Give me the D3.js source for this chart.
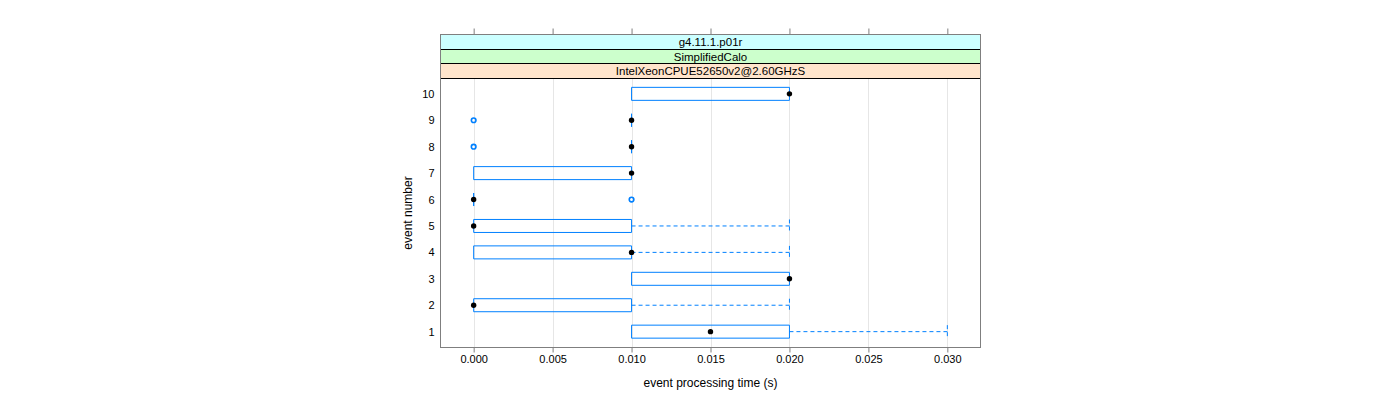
<!DOCTYPE html>
<html>
<head>
<meta charset="utf-8">
<script src="https://cdn.jsdelivr.net/npm/d3@7"></script>
<style>
  html, body { margin: 0; padding: 0; background: #ffffff; }
  svg { display: block; font-family: "Liberation Sans", Arial, Helvetica, sans-serif; }
</style>
</head>
<body>
<svg id="chart" width="1400" height="400"></svg>
<script>
// ---- data ----
const events      = [1, 2, 3, 4, 5, 6, 7, 8, 9, 10];
const q1Values    = [0.010, 0.000, 0.010, 0.000, 0.000, 0.000, 0.000, 0.010, 0.010, 0.010];
const q3Values    = [0.020, 0.010, 0.020, 0.010, 0.010, 0.000, 0.010, 0.010, 0.010, 0.020];
const medians     = [0.015, 0.000, 0.020, 0.010, 0.000, 0.000, 0.010, 0.010, 0.010, 0.020];
const whiskerLow  = [0.010, 0.000, 0.010, 0.000, 0.000, 0.000, 0.000, 0.010, 0.010, 0.010];
const whiskerHigh = [0.030, 0.020, 0.020, 0.020, 0.020, 0.000, 0.010, 0.010, 0.010, 0.020];
const outlierEvents = [6, 8, 9];
const outlierValues = [0.010, 0.000, 0.000];
const xTicks = [0.000, 0.005, 0.010, 0.015, 0.020, 0.025, 0.030];
const stripLabels = ["g4.11.1.p01r", "SimplifiedCalo", "IntelXeonCPUE52650v2@2.60GHzS"];
const stripColors = ["#ccffff", "#ccffcc", "#ffe5cc"];
const xTitle = "event processing time (s)";
const yTitle = "event number";

// ---- layout ----
const svg = d3.select("#chart");
const L = 440.5, R = 980.5, T = 34.5, B = 347.5;
const stripEdges = [34.5, 49.5, 63.5, 78.5];
const P = stripEdges[3];
const boxH = 13;

const x = d3.scaleLinear().domain([-0.0021, 0.0321]).range([L, R]);
const y = d3.scaleLinear().domain([0.4, 10.6]).range([B, P - 0.5]);

const blue = "#0080ff";
const frame = "#7f7f7f";

// grid lines
svg.append("g").selectAll("line").data(xTicks).join("line")
  .attr("x1", d => Math.round(x(d)) + 0.5).attr("x2", d => Math.round(x(d)) + 0.5)
  .attr("y1", P).attr("y2", B)
  .attr("stroke", "#e6e6e6").attr("stroke-width", 1);

// strips
const strips = svg.append("g");
stripLabels.forEach((lab, i) => {
  const y0 = stripEdges[i], y1 = stripEdges[i + 1];
  strips.append("rect").attr("x", L).attr("y", y0).attr("width", R - L).attr("height", y1 - y0)
    .attr("fill", stripColors[i]).attr("stroke", "#000").attr("stroke-width", 1);
  strips.append("text").attr("x", (L + R) / 2).attr("y", (y0 + y1) / 2 + 4)
    .attr("text-anchor", "middle").attr("font-size", 11.5).attr("fill", "#000").text(lab);
});

// boxes
const data = events.map((e, i) => ({
  e, q1: q1Values[i], q3: q3Values[i], med: medians[i], lo: whiskerLow[i], hi: whiskerHigh[i]
}));
const g = svg.append("g");

// whiskers (dashed)
data.filter(d => d.hi > d.q3).forEach(d => {
  const yc = y(d.e);
  g.append("line").attr("x1", x(d.q3)).attr("x2", x(d.hi)).attr("y1", yc).attr("y2", yc)
    .attr("stroke", blue).attr("stroke-dasharray", "4,3");
  g.append("line").attr("x1", x(d.hi)).attr("x2", x(d.hi)).attr("y1", yc - boxH / 2).attr("y2", yc + boxH / 2)
    .attr("stroke", blue).attr("stroke-dasharray", "4,3");
});
data.filter(d => d.lo < d.q1).forEach(d => {
  const yc = y(d.e);
  g.append("line").attr("x1", x(d.lo)).attr("x2", x(d.q1)).attr("y1", yc).attr("y2", yc)
    .attr("stroke", blue).attr("stroke-dasharray", "4,3");
  g.append("line").attr("x1", x(d.lo)).attr("x2", x(d.lo)).attr("y1", yc - boxH / 2).attr("y2", yc + boxH / 2)
    .attr("stroke", blue).attr("stroke-dasharray", "4,3");
});

// box outlines drawn as paths so degenerate (zero-width) boxes still show
g.selectAll("path.box").data(data).join("path").attr("class", "box")
  .attr("d", d => {
    const x0 = x(d.q1), x1 = x(d.q3), y0 = y(d.e) - boxH / 2, y1 = y(d.e) + boxH / 2;
    return `M${x0},${y0}L${x1},${y0}L${x1},${y1}L${x0},${y1}Z`;
  })
  .attr("fill", "none").attr("stroke", blue).attr("stroke-width", 1);

// medians
g.selectAll("circle.med").data(data).join("circle").attr("class", "med")
  .attr("cx", d => x(d.med)).attr("cy", d => y(d.e)).attr("r", 2.7).attr("fill", "#000");

// outliers
g.selectAll("circle.out").data(outlierEvents.map((e, i) => ({ e, v: outlierValues[i] }))).join("circle")
  .attr("class", "out")
  .attr("cx", d => x(d.v)).attr("cy", d => y(d.e)).attr("r", 2.3)
  .attr("fill", "none").attr("stroke", blue).attr("stroke-width", 1.6);

// frame
svg.append("rect").attr("x", L).attr("y", T).attr("width", R - L).attr("height", B - T)
  .attr("fill", "none").attr("stroke", frame).attr("stroke-width", 1);

// bottom axis
const xAxis = d3.axisBottom(x).tickValues(xTicks).tickFormat(d3.format(".3f")).tickSizeOuter(0).tickSize(5).tickPadding(3);
const gx = svg.append("g").attr("transform", `translate(0,${B})`).call(xAxis);
gx.select(".domain").remove();
gx.selectAll("line").attr("stroke", frame);
gx.selectAll("text").attr("font-size", 11).attr("font-family", "Liberation Sans, Arial, sans-serif").attr("fill", "#000");

// top axis ticks (no labels)
const xAxisTop = d3.axisTop(x).tickValues(xTicks).tickFormat("").tickSizeOuter(0).tickSize(6);
const gt = svg.append("g").attr("transform", `translate(0,${T})`).call(xAxisTop);
gt.select(".domain").remove();
gt.selectAll("line").attr("stroke", frame);

// left axis labels
const yAxis = d3.axisLeft(y).tickValues(events).tickFormat(d3.format("d")).tickSize(0).tickPadding(6);
const gy = svg.append("g").attr("transform", `translate(${L},0)`).call(yAxis);
gy.select(".domain").remove();
gy.selectAll("text").attr("font-size", 11).attr("font-family", "Liberation Sans, Arial, sans-serif").attr("fill", "#000");

// titles
svg.append("text").attr("x", (L + R) / 2).attr("y", 387).attr("text-anchor", "middle")
  .attr("font-size", 12).attr("fill", "#000").text(xTitle);
svg.append("text").attr("transform", `translate(412,${(P + B) / 2}) rotate(-90)`).attr("text-anchor", "middle")
  .attr("font-size", 12).attr("fill", "#000").text(yTitle);
</script>
</body>
</html>
